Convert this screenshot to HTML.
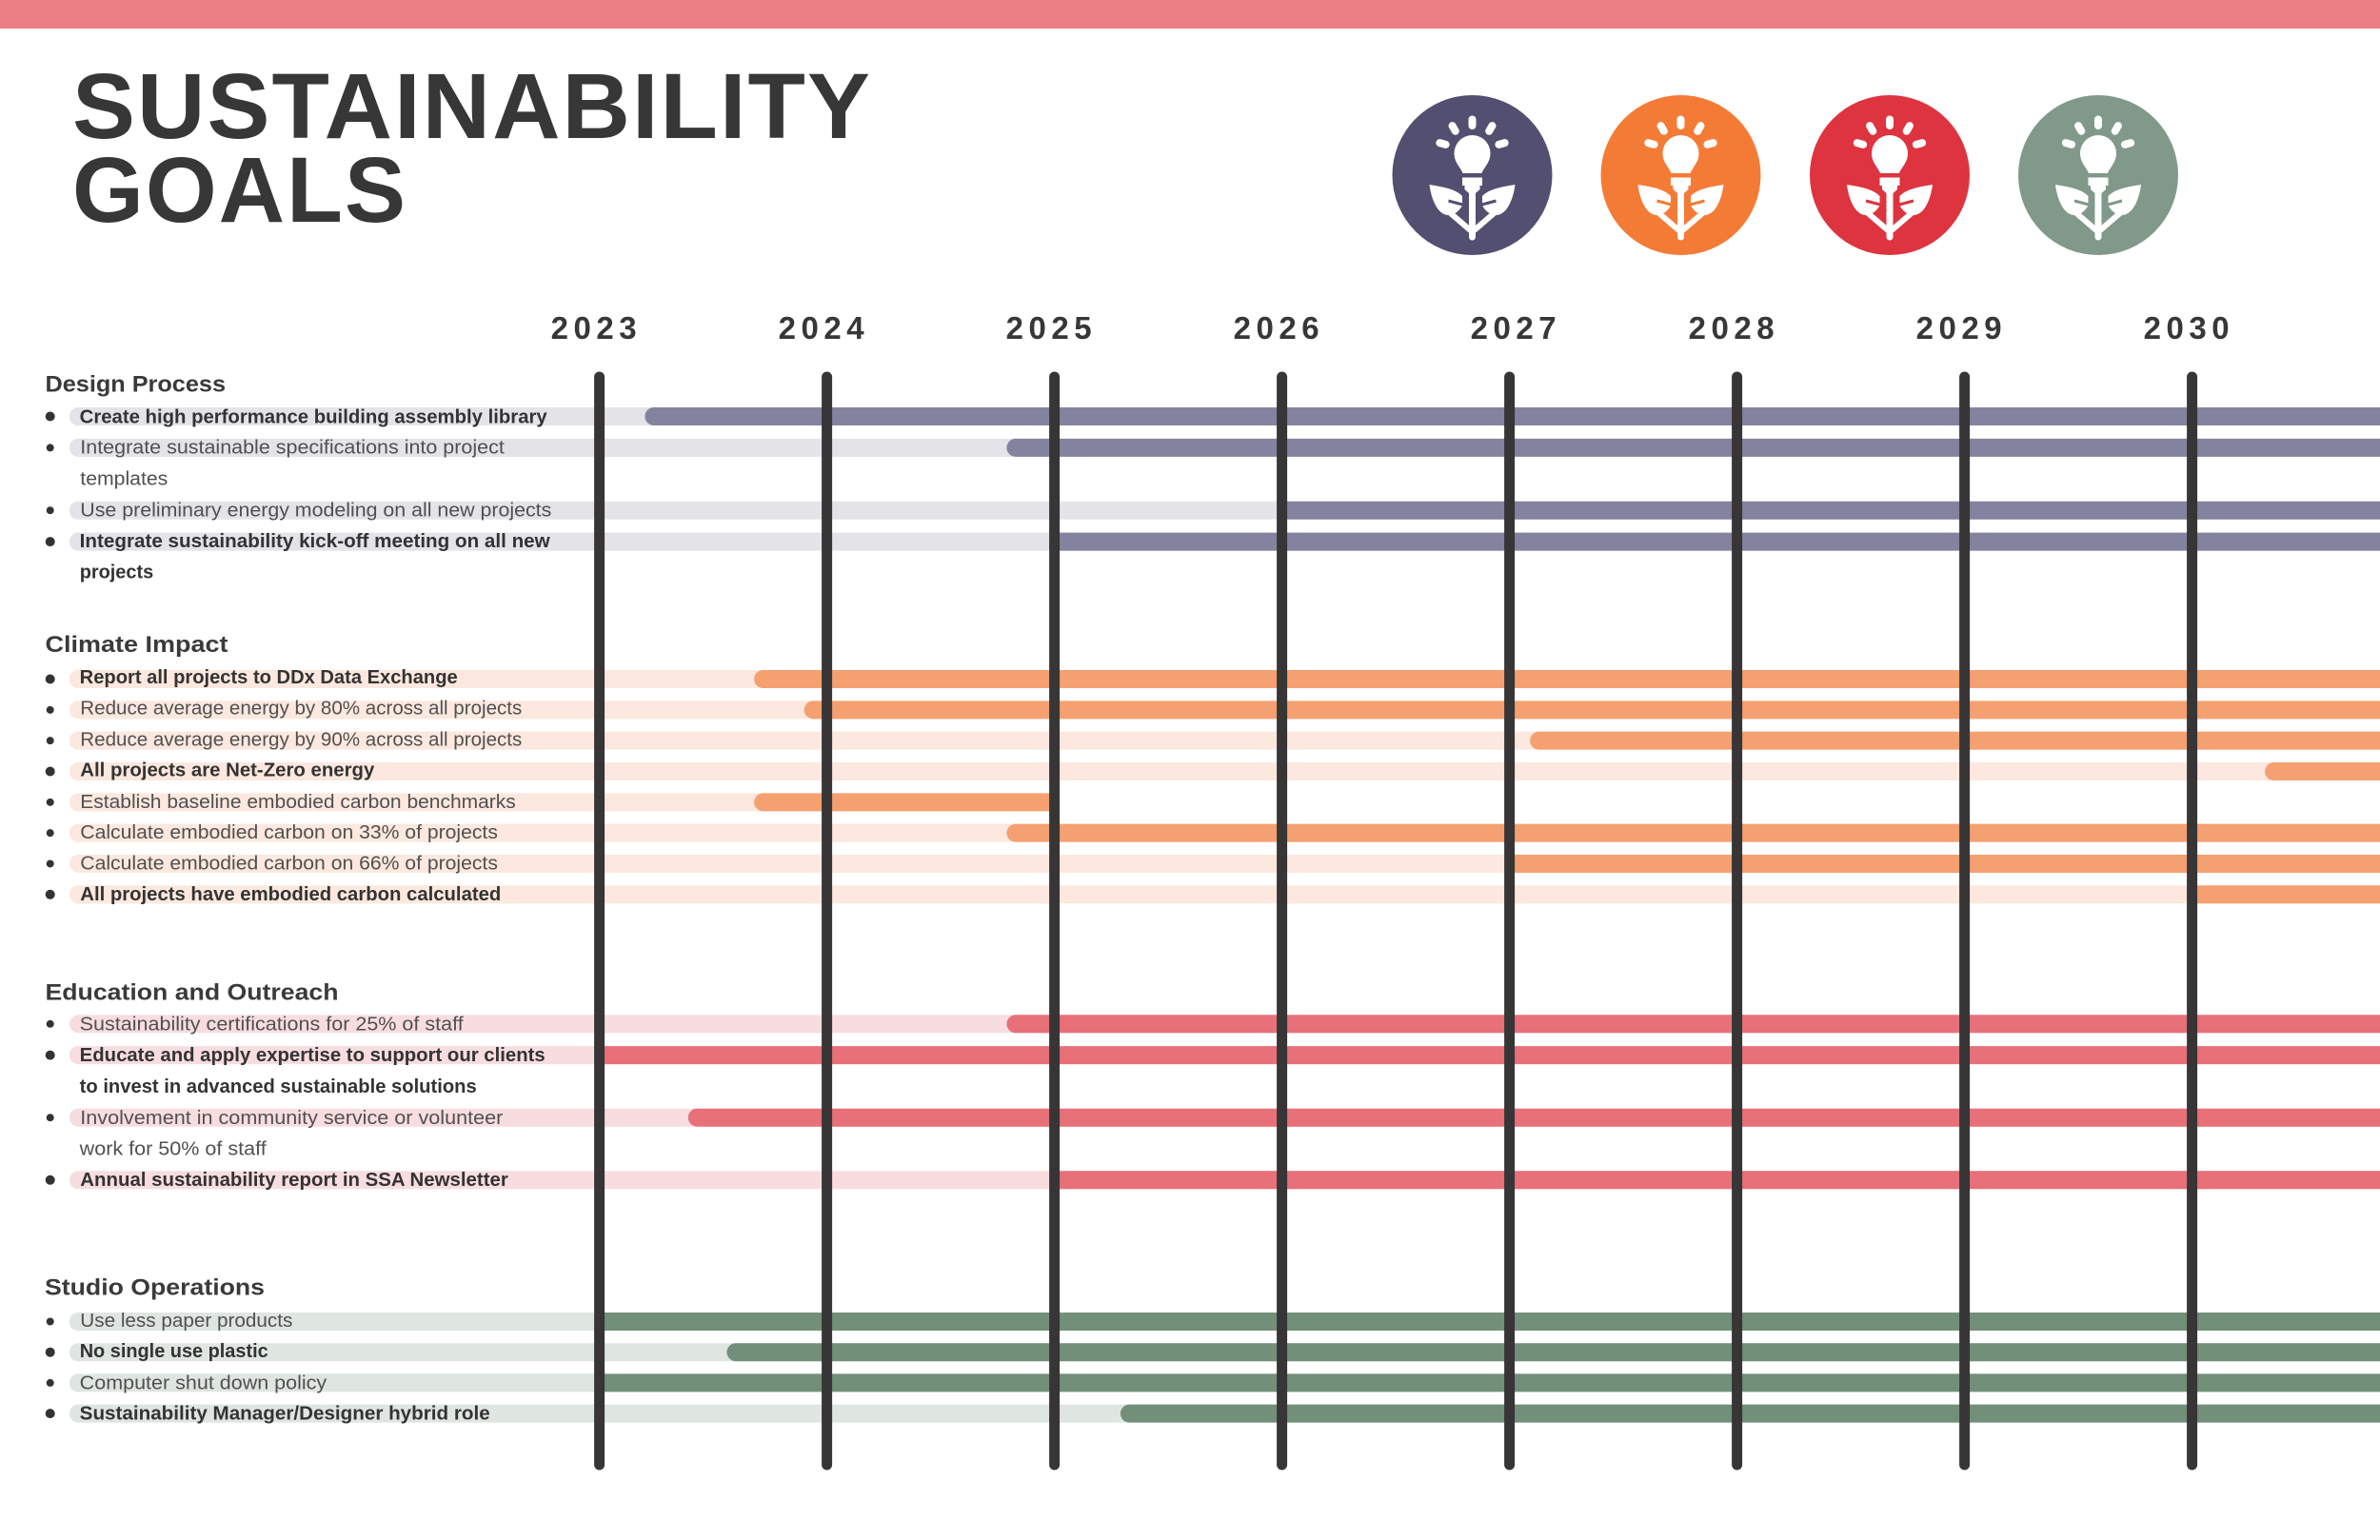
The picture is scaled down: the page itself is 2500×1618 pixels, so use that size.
<!DOCTYPE html>
<html lang="en">
<head>
<meta charset="utf-8">
<title>Sustainability Goals</title>
<style>
html,body{margin:0;padding:0;background:#fff;width:2500px;height:1618px;overflow:hidden}
svg{display:block}
text{font-family:"Liberation Sans",sans-serif}
.title{font-size:97px;font-weight:700;fill:#373737;letter-spacing:2px}
.head{font-size:24px;font-weight:700;fill:#3a3a3a}
.b{font-size:20px;font-weight:700;fill:#333}
.r{font-size:20px;font-weight:400;fill:#505050}
.year{font-size:33px;font-weight:700;fill:#373737}
</style>
</head>
<body>
<svg id="chart" xmlns="http://www.w3.org/2000/svg" width="2500" height="1618" viewBox="0 0 2500 1618">
<defs>
<g id="bulb-plant">
  <g fill="#fff">
    <rect x="-4" y="-62.5" width="8" height="14.5" rx="4"/>
    <rect x="-4" y="-56.3" width="8" height="14.5" rx="4" transform="translate(-19.3 0) rotate(-30 0 -49)"/>
    <rect x="-4" y="-56.3" width="8" height="14.5" rx="4" transform="translate(19.3 0) rotate(30 0 -49)"/>
    <rect x="-4" y="-40.3" width="8" height="14.5" rx="4" transform="translate(-31 0) rotate(-75 0 -33)"/>
    <rect x="-4" y="-40.3" width="8" height="14.5" rx="4" transform="translate(31 0) rotate(75 0 -33)"/>
    <path d="M-10,-2 C-12,-8 -19,-13 -19,-23 A19,19 0 0 1 19,-23 C19,-13 12,-8 10,-2 Z"/>
    <rect x="-10.5" y="2.5" width="21" height="8.5"/>
    <path d="M-8,11 H8 V15 L3.5,19 V65 A3.5,3.5 0 0 1 -3.5,65 V19 L-8,15 Z"/>
    <path d="M-45,10 C-33,12 -18,14 -10.5,22 L-10.5,32 C-14,38 -19,42 -25,42 C-36,42 -43,26 -45,10 Z"/>
    <path d="M45,10 C33,12 18,14 10.5,22 L10.5,32 C14,38 19,42 25,42 C36,42 43,26 45,10 Z"/>
  </g>
  <path d="M-24,39 L-2,58 M24,39 L2,58" stroke="#fff" stroke-width="6" fill="none"/>
  <path d="M-25,27 L-10,31 M25,27 L10,31" stroke="currentColor" stroke-width="3" fill="none"/>
</g>
</defs>

<rect x="0" y="0" width="2500" height="30" fill="#eb7e84"/>

<g>
  <text class="title" x="76" y="145" textLength="840" lengthAdjust="spacingAndGlyphs">SUSTAINABILITY</text>
  <text class="title" x="76" y="233" textLength="352" lengthAdjust="spacingAndGlyphs">GOALS</text>
</g>

<g>
  <g transform="translate(1546.5 184)" style="color:#534f70"><circle r="84" fill="#534f70"/><use href="#bulb-plant"/></g>
  <g transform="translate(1765.5 184)" style="color:#f47b36"><circle r="84" fill="#f47b36"/><use href="#bulb-plant"/></g>
  <g transform="translate(1985 184)" style="color:#dd3440"><circle r="84" fill="#dd3440"/><use href="#bulb-plant"/></g>
  <g transform="translate(2204 184)" style="color:#80998a"><circle r="84" fill="#80998a"/><use href="#bulb-plant"/></g>
</g>

<g id="tracks"></g>
<g id="bars"></g>
<g id="gridlines"></g>
<g id="yearlabels"></g>

<g>
  <text class="head" x="47.5" y="411.7" textLength="189.5" lengthAdjust="spacingAndGlyphs">Design Process</text>
  <text class="b" x="83.7" y="444.3" textLength="491" lengthAdjust="spacingAndGlyphs">Create high performance building assembly library</text>
  <text class="r" x="84.3" y="476.7" textLength="445.5" lengthAdjust="spacingAndGlyphs">Integrate sustainable specifications into project</text>
  <text class="r" x="84.3" y="509.3" textLength="92" lengthAdjust="spacingAndGlyphs">templates</text>
  <text class="r" x="84.3" y="542.7" textLength="495" lengthAdjust="spacingAndGlyphs">Use preliminary energy modeling on all new projects</text>
  <text class="b" x="83.7" y="575" textLength="494" lengthAdjust="spacingAndGlyphs">Integrate sustainability kick-off meeting on all new</text>
  <text class="b" x="83.7" y="607.7" textLength="77.5" lengthAdjust="spacingAndGlyphs">projects</text>
</g>

<g>
  <text class="head" x="47.5" y="685" textLength="192" lengthAdjust="spacingAndGlyphs">Climate Impact</text>
  <text class="b" x="83.7" y="718" textLength="397" lengthAdjust="spacingAndGlyphs">Report all projects to DDx Data Exchange</text>
  <text class="r" x="84.3" y="750.7" textLength="464" lengthAdjust="spacingAndGlyphs">Reduce average energy by 80% across all projects</text>
  <text class="r" x="84.3" y="783.3" textLength="464" lengthAdjust="spacingAndGlyphs">Reduce average energy by 90% across all projects</text>
  <text class="b" x="84.3" y="815.7" textLength="309" lengthAdjust="spacingAndGlyphs">All projects are Net-Zero energy</text>
  <text class="r" x="84.3" y="849" textLength="457.5" lengthAdjust="spacingAndGlyphs">Establish baseline embodied carbon benchmarks</text>
  <text class="r" x="84.3" y="881" textLength="438.6" lengthAdjust="spacingAndGlyphs">Calculate embodied carbon on 33% of projects</text>
  <text class="r" x="84.3" y="913.7" textLength="438.6" lengthAdjust="spacingAndGlyphs">Calculate embodied carbon on 66% of projects</text>
  <text class="b" x="84.3" y="946" textLength="442" lengthAdjust="spacingAndGlyphs">All projects have embodied carbon calculated</text>
</g>

<g>
  <text class="head" x="47.5" y="1050.7" textLength="308" lengthAdjust="spacingAndGlyphs">Education and Outreach</text>
  <text class="r" x="83.7" y="1082.7" textLength="403" lengthAdjust="spacingAndGlyphs">Sustainability certifications for 25% of staff</text>
  <text class="b" x="83.7" y="1115" textLength="489" lengthAdjust="spacingAndGlyphs">Educate and apply expertise to support our clients</text>
  <text class="b" x="83.7" y="1148" textLength="417" lengthAdjust="spacingAndGlyphs">to invest in advanced sustainable solutions</text>
  <text class="r" x="84.3" y="1181" textLength="444" lengthAdjust="spacingAndGlyphs">Involvement in community service or volunteer</text>
  <text class="r" x="83.7" y="1213.7" textLength="196" lengthAdjust="spacingAndGlyphs">work for 50% of staff</text>
  <text class="b" x="84.3" y="1246" textLength="449.5" lengthAdjust="spacingAndGlyphs">Annual sustainability report in SSA Newsletter</text>
</g>

<g>
  <text class="head" x="47" y="1360.7" textLength="231" lengthAdjust="spacingAndGlyphs">Studio Operations</text>
  <text class="r" x="84.3" y="1394" textLength="223" lengthAdjust="spacingAndGlyphs">Use less paper products</text>
  <text class="b" x="83.7" y="1426" textLength="198" lengthAdjust="spacingAndGlyphs">No single use plastic</text>
  <text class="r" x="83.7" y="1459.3" textLength="259.5" lengthAdjust="spacingAndGlyphs">Computer shut down policy</text>
  <text class="b" x="83.7" y="1491.3" textLength="431" lengthAdjust="spacingAndGlyphs">Sustainability Manager/Designer hybrid role</text>
</g>
<g id="bullets"></g>
</svg>

<script>
// Tick labels
const yearTicks = [2023, 2024, 2025, 2026, 2027, 2028, 2029, 2030];

// Start and end year of each goal, plus the number of text lines it takes
const designStarts = [2023.2, 2024.79, 2026, 2025];
const designEnds = [2031, 2031, 2031, 2031];
const designLines = [1, 2, 1, 2];
const designBold = [true, false, false, true];

const climateStarts = [2023.68, 2023.9, 2027.09, 2030.32, 2023.68, 2024.79, 2027, 2030];
const climateEnds = [2031, 2031, 2031, 2031, 2025, 2031, 2031, 2031];
const climateLines = [1, 1, 1, 1, 1, 1, 1, 1];
const climateBold = [true, false, false, true, false, false, false, true];

const educationStarts = [2024.79, 2023, 2023.39, 2025];
const educationEnds = [2031, 2031, 2031, 2031];
const educationLines = [1, 2, 2, 1];
const educationBold = [false, true, false, true];

const studioStarts = [2023, 2023.56, 2023, 2025.29];
const studioEnds = [2031, 2031, 2031, 2031];
const studioLines = [1, 1, 1, 1];
const studioBold = [false, true, false, true];

const NS = 'http://www.w3.org/2000/svg';
function xScale(year) { return 629.6 + (year - 2023) * 239; }

function el(tag, parent) {
  const node = document.createElementNS(NS, tag);
  parent.appendChild(node);
  return node;
}

function roundedLeftPath(x, xEnd, y, h, r) {
  if (r === 0) return 'M' + x + ',' + y + 'H' + xEnd + 'V' + (y + h) + 'H' + x + 'Z';
  return 'M' + (x + r) + ',' + y + 'H' + xEnd + 'V' + (y + h) + 'H' + (x + r) +
         'A' + r + ',' + r + ' 0 0 1 ' + x + ',' + (y + h - r) +
         'V' + (y + r) +
         'A' + r + ',' + r + ' 0 0 1 ' + (x + r) + ',' + y + 'Z';
}

function drawSection(name, starts, ends, lines, bold, top, pitch, trackColor, barColor) {
  const tracks = document.getElementById('tracks');
  const bars = document.getElementById('bars');
  const bullets = document.getElementById('bullets');
  const rowH = 19;
  let slot = 0;
  starts.forEach(function (start, i) {
    const y = top + slot * pitch;
    const xEnd = Math.min(xScale(ends[i]), 2500);
    const track = el('path', tracks);
    
    
    track.setAttribute('d', roundedLeftPath(73, xEnd, y, rowH, 9));
    track.setAttribute('fill', trackColor);

    const onTick = Number.isInteger(start);
    const bar = el('path', bars);
    
    
    bar.setAttribute('d', roundedLeftPath(xScale(start), xEnd, y, rowH, onTick ? 0 : 9.5));
    bar.setAttribute('fill', barColor);

    const dot = el('circle', bullets);
    
    
    dot.setAttribute('cx', 52.7);
    dot.setAttribute('cy', y + 9.5);
    dot.setAttribute('r', bold[i] ? 5 : 4);
    dot.setAttribute('fill', '#333');
    slot += lines[i];
  });
}

drawSection('design-process', designStarts, designEnds, designLines, designBold, 428, 32.9, '#e3e3e8', '#84839f');
drawSection('climate-impact', climateStarts, climateEnds, climateLines, climateBold, 704, 32.33, '#fce8de', '#f5a071');
drawSection('education-outreach', educationStarts, educationEnds, educationLines, educationBold, 1066.3, 32.8, '#f8dde0', '#e87078');
drawSection('studio-operations', studioStarts, studioEnds, studioLines, studioBold, 1379, 32.2, '#dfe5e1', '#729079');

const grid = document.getElementById('gridlines');
const labelLayer = document.getElementById('yearlabels');
yearTicks.forEach(function (year) {
  const line = el('line', grid);
  
  
  line.setAttribute('x1', xScale(year));
  line.setAttribute('x2', xScale(year));
  line.setAttribute('y1', 396);
  line.setAttribute('y2', 1539);
  line.setAttribute('stroke', '#373535');
  line.setAttribute('stroke-width', 11);
  line.setAttribute('stroke-linecap', 'round');

  const label = el('text', labelLayer);
  
  
  label.setAttribute('class', 'year');
  label.setAttribute('x', xScale(year) + (year === 2027 ? -41 : -51));
  label.setAttribute('y', 356);
  label.setAttribute('textLength', 90);
  label.setAttribute('lengthAdjust', 'spacing');
  label.textContent = String(year);
});
</script>
</body>
</html>
